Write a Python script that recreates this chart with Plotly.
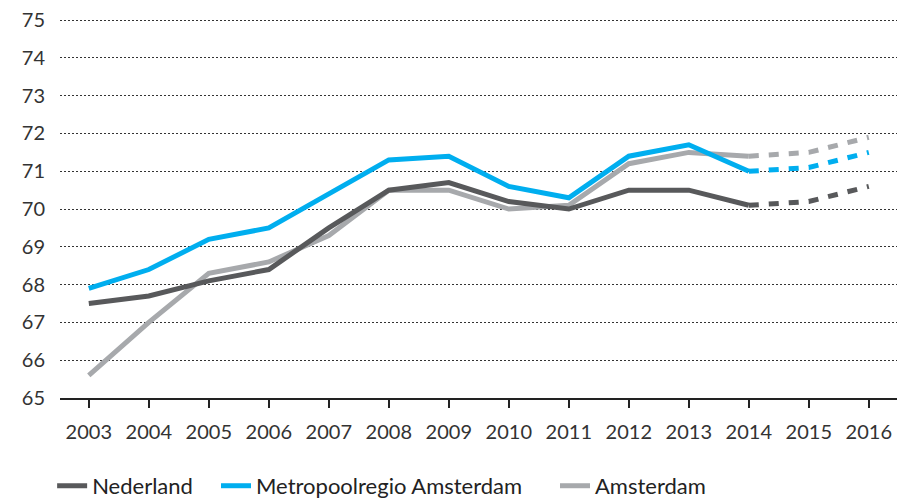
import plotly.graph_objects as go

years = [2003, 2004, 2005, 2006, 2007, 2008, 2009, 2010, 2011, 2012, 2013, 2014]
forecast_years = [2014, 2015, 2016]

nederland = [67.5, 67.7, 68.1, 68.4, 69.5, 70.5, 70.7, 70.2, 70.0, 70.5, 70.5, 70.1]
nederland_fc = [70.1, 70.2, 70.6]
metro = [67.9, 68.4, 69.2, 69.5, 70.4, 71.3, 71.4, 70.6, 70.3, 71.4, 71.7, 71.0]
metro_fc = [71.0, 71.1, 71.5]
amsterdam = [65.6, 67.0, 68.3, 68.6, 69.3, 70.5, 70.5, 70.0, 70.1, 71.2, 71.5, 71.4]
amsterdam_fc = [71.4, 71.5, 71.9]

x_ticks = list(range(2003, 2017))
y_ticks = list(range(65, 76))

C_NL = "#58595b"
C_MR = "#00aeef"
C_AM = "#a7a9ac"
LW = 5

fig = go.Figure()

series = [
    ("Amsterdam", amsterdam, amsterdam_fc, C_AM, "legend3"),
    ("Nederland", nederland, nederland_fc, C_NL, "legend"),
    ("Metropoolregio Amsterdam", metro, metro_fc, C_MR, "legend2"),
]

for name, vals, fc, col, lg in series:
    fig.add_trace(go.Scatter(
        x=forecast_years, y=fc, mode="lines", showlegend=False,
        line=dict(color=col, width=LW, dash="10px,10px"), hoverinfo="skip"))
for name, vals, fc, col, lg in series:
    fig.add_trace(go.Scatter(
        x=years, y=vals, mode="lines", name=name, legend=lg,
        line=dict(color=col, width=LW)))

legend_common = dict(orientation="h", xanchor="left", y=-0.232, yanchor="middle",
                     font=dict(size=22, color="#222222"), itemwidth=30,
                     bgcolor="rgba(0,0,0,0)", borderwidth=0)

fig.update_layout(
    width=902, height=495,
    margin=dict(l=52, r=13, t=11, b=105, autoexpand=False),
    paper_bgcolor="white", plot_bgcolor="white",
    font=dict(family="Lato, Open Sans, sans-serif", size=20, color="#333333"),
    showlegend=True,
    legend=dict(x=-0.0094, **legend_common),
    legend2=dict(x=0.1864, **legend_common),
    legend3=dict(x=0.5914, **legend_common),
    xaxis=dict(
        range=[2002.52, 2016.47], tickmode="array", tickvals=x_ticks,
        ticktext=[str(v) for v in x_ticks],
        showgrid=False, zeroline=False, automargin=False,
        showline=True, linecolor="#222222", linewidth=2,
        ticks="outside", ticklen=8, tickcolor="#222222", tickwidth=1.5,
        ticklabelstandoff=7, ticklabeloverflow="allow",
    ),
    yaxis=dict(
        range=[65, 75.03], tickmode="array", tickvals=y_ticks, automargin=False,
        showgrid=True, gridcolor="#333333", gridwidth=1.3, griddash="2px,2px",
        zeroline=False, showline=False, ticks="", ticklabelstandoff=14,
        ticklabeloverflow="allow",
    ),
)

fig.write_html("out.html")
